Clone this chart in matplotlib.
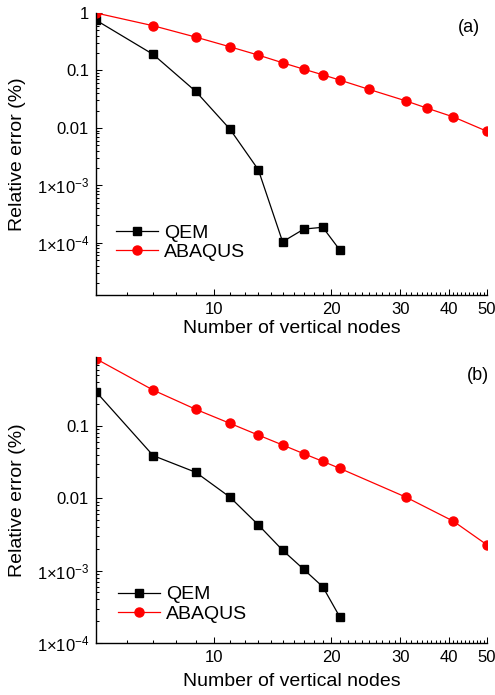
# relative error vs number of vertical nodes, two panels

import numpy as np
import matplotlib
matplotlib.use("Agg")
import matplotlib.pyplot as plt
from matplotlib.ticker import FixedLocator, NullFormatter

plt.rcParams['font.family'] = ['Liberation Sans', 'DejaVu Sans']
plt.rcParams['mathtext.fontset'] = 'custom'
plt.rcParams['mathtext.rm'] = 'Liberation Sans'
plt.rcParams['mathtext.it'] = 'Liberation Sans:italic'

# panel (a)
nodes_qem_a = [5, 7, 9, 11, 13, 15, 17, 19, 21]
err_qem_a = [0.75, 0.19, 0.043, 0.0095, 0.00187, 1.04e-4, 1.73e-4, 1.86e-4, 7.5e-5]
nodes_abq_a = [5, 7, 9, 11, 13, 15, 17, 19, 21, 25, 31, 35, 41, 50]
err_abq_a = [1.0, 0.60, 0.38, 0.258, 0.185, 0.136, 0.105, 0.084, 0.068,
             0.0466, 0.0295, 0.0222, 0.0155, 0.0087]

# panel (b)
nodes_qem_b = [5, 7, 9, 11, 13, 15, 17, 19, 21]
err_qem_b = [0.298, 0.039, 0.0229, 0.0104, 0.0043, 0.00192, 0.00104, 0.00060, 0.00023]
nodes_abq_b = [5, 7, 9, 11, 13, 15, 17, 19, 21, 31, 41, 50]
err_abq_b = [0.85, 0.314, 0.17, 0.109, 0.075, 0.0547, 0.0414, 0.0325, 0.026,
             0.0104, 0.00483, 0.00227]

x_major = [10, 20, 30, 40, 50]
y_major = [1e-4, 1e-3, 1e-2, 1e-1, 1]
y_labels = [r'1×10$^{-4}$', r'1×10$^{-3}$', '0.01', '0.1', '1']


def style_axes(ax, ylim, tag, tag_xy, leg_anchor, xlab_y):
    ax.set_xscale('log')
    ax.set_yscale('log')
    ax.set_xlim(5, 50)
    ax.set_ylim(*ylim)
    ax.spines['top'].set_visible(False)
    ax.spines['right'].set_visible(False)
    for s in ['left', 'bottom']:
        ax.spines[s].set_linewidth(1.0)

    ax.xaxis.set_major_locator(FixedLocator(x_major))
    ax.xaxis.set_minor_locator(FixedLocator([v for v in range(5, 51) if v not in x_major]))
    ax.set_xticklabels([str(v) for v in x_major])
    ax.xaxis.set_minor_formatter(NullFormatter())

    ax.set_yticks(y_major, y_labels)
    minors = [m * d for d in [1e-5, 1e-4, 1e-3, 1e-2, 1e-1] for m in range(2, 10)]
    ax.yaxis.set_minor_locator(FixedLocator(minors))
    ax.yaxis.set_minor_formatter(NullFormatter())
    ax.set_ylim(*ylim)
    for lab in ax.get_yticklabels():
        if '10' in lab.get_text():
            lab.set_fontsize(9.5)

    ax.tick_params(which='both', direction='in', width=0.75, labelsize=12, pad=5)
    ax.tick_params(which='major', length=4)
    ax.tick_params(which='minor', length=2.5)

    ax.set_xlabel('Number of vertical nodes', fontsize=14)
    ax.set_ylabel('Relative error (%)', fontsize=14)
    ax.yaxis.set_label_coords(-0.18, 0.5)
    ax.xaxis.set_label_coords(0.5, xlab_y)

    ax.text(tag_xy[0], tag_xy[1], tag, transform=ax.transAxes, fontsize=13,
            ha='center', va='center')
    ax.legend(loc='lower left', bbox_to_anchor=leg_anchor, frameon=False,
              fontsize=14, handlelength=2.2, handletextpad=0.3,
              labelspacing=0.1, borderaxespad=0, borderpad=0)


fig = plt.figure(figsize=(4.95, 6.95), dpi=100)
ax1 = fig.add_axes([0.194, 0.5755, 0.790, 0.4058])
ax2 = fig.add_axes([0.194, 0.0748, 0.790, 0.4115])

ax1.plot(nodes_qem_a, err_qem_a, 's-', color='black', lw=0.9, ms=5.5, label='QEM')
ax1.plot(nodes_abq_a, err_abq_a, 'o-', color='red', lw=0.9, ms=6.5, label='ABAQUS')
style_axes(ax1, (1.23e-5, 1.0), '(a)', (0.954, 0.947), (0.05, 0.12), -0.09)

ax2.plot(nodes_qem_b, err_qem_b, 's-', color='black', lw=0.9, ms=5.5, label='QEM')
ax2.plot(nodes_abq_b, err_abq_b, 'o-', color='red', lw=0.9, ms=6.5, label='ABAQUS')
style_axes(ax2, (1e-4, 0.9), '(b)', (0.977, 0.937), (0.055, 0.07), -0.105)

fig.savefig('out.png', dpi=100)
